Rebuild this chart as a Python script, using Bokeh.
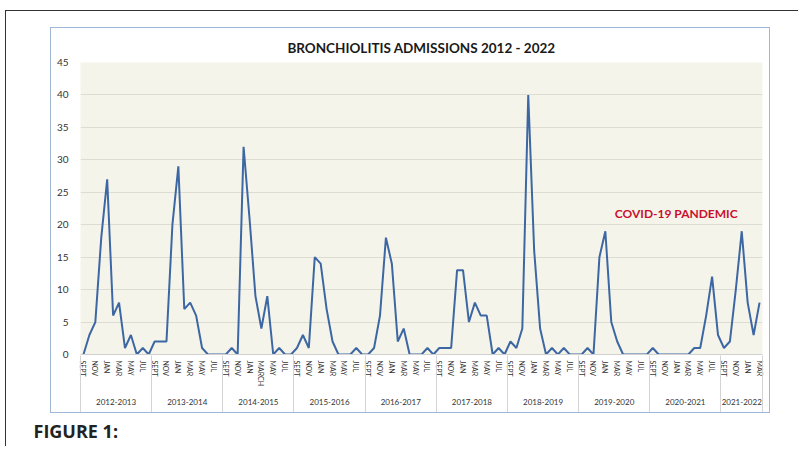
import numpy as np
from bokeh.plotting import figure
from bokeh.models import (Range1d, FixedTicker, LinearAxis, Label, Title, ColumnDataSource,
                          InlineStyleSheet)
from bokeh.embed import file_html
from bokeh.resources import INLINE

title_text = "BRONCHIOLITIS ADMISSIONS 2012 - 2022"
annotation_text = "COVID-19 PANDEMIC"
figure_caption = "FIGURE 1:"

seasons = ["2012-2013", "2013-2014", "2014-2015", "2015-2016", "2016-2017",
           "2017-2018", "2018-2019", "2019-2020", "2020-2021", "2021-2022"]
months = ["SEPT", "OCT", "NOV", "DEC", "JAN", "FEB", "MAR", "APR", "MAY", "JUN", "JUL", "AUG"]

adm_2012_2013 = [0, 3, 5, 18, 27, 6, 8, 1, 3, 0, 1, 0]
adm_2013_2014 = [2, 2, 2, 20, 29, 7, 8, 6, 1, 0, 0, 0]
adm_2014_2015 = [0, 1, 0, 32, 21, 9, 4, 9, 0, 1, 0, 0]
adm_2015_2016 = [1, 3, 1, 15, 14, 7, 2, 0, 0, 0, 1, 0]
adm_2016_2017 = [0, 1, 6, 18, 14, 2, 4, 0, 0, 0, 1, 0]
adm_2017_2018 = [1, 1, 1, 13, 13, 5, 8, 6, 6, 0, 1, 0]
adm_2018_2019 = [2, 1, 4, 40, 16, 4, 0, 1, 0, 1, 0, 0]
adm_2019_2020 = [0, 1, 0, 15, 19, 5, 2, 0, 0, 0, 0, 0]
adm_2020_2021 = [1, 0, 0, 0, 0, 0, 0, 1, 1, 6, 12, 3]
adm_2021_2022 = [1, 2, 10, 19, 8, 3, 8]

# month tick labels shown (every other month), per season
tick_labels_std = ["SEPT", "NOV", "JAN", "MAR", "MAY", "JUL"]
tick_labels_2014_2015 = ["SEPT", "NOV", "JAN", "MARCH", "MAY", "JUL"]
tick_labels_2021_2022 = ["SEPT", "NOV", "JAN", "MAR"]

y_ticks = [0, 5, 10, 15, 20, 25, 30, 35, 40, 45]

# position of the annotation (data units: month index, admissions)
annotation_x = 89.6
annotation_y = 21.7

season_values = [adm_2012_2013, adm_2013_2014, adm_2014_2015, adm_2015_2016, adm_2016_2017,
                 adm_2017_2018, adm_2018_2019, adm_2019_2020, adm_2020_2021, adm_2021_2022]
season_ticks = [tick_labels_std, tick_labels_std, tick_labels_2014_2015, tick_labels_std,
                tick_labels_std, tick_labels_std, tick_labels_std, tick_labels_std,
                tick_labels_std, tick_labels_2021_2022]

values, month_names = [], []
for vals in season_values:
    values += vals
    month_names += months[:len(vals)]
x = list(range(len(values)))

tick_pos, tick_over = [], {}
dividers = [-0.5]
centers, center_over = [], {}
start = 0
for season, vals, labs in zip(seasons, season_values, season_ticks):
    for k, lab in enumerate(labs):
        t = start + 2 * k
        tick_pos.append(t)
        tick_over[t] = lab
    c = start + (len(vals) - 1) / 2
    centers.append(c)
    center_over[c] = season
    start += len(vals)
    dividers.append(start - 0.5)

src = ColumnDataSource(dict(x=x, y=values, month=month_names))

FONT = "Lato"
W, H = 798, 442
FL, FT, FW, FH = 80, 62, 682, 292
p = figure(frame_width=FW, frame_height=FH,
           x_range=Range1d(-0.5, len(values) - 0.5), y_range=Range1d(0, 45),
           output_backend="svg", toolbar_location=None,
           min_border_left=FL, min_border_right=W - FL - FW,
           min_border_top=FT, min_border_bottom=H - FT - FH)

p.background_fill_color = "#f5f4ea"
p.border_fill_color = "white"
p.outline_line_color = None

p.title.text = title_text
p.title.align = "center"
p.title.offset = -11
p.title.text_font = FONT
p.title.text_font_style = "bold"
p.title.text_font_size = "13.5px"
p.title.text_color = "#1a1a1a"
p.title.standoff = 14

p.line("x", "y", source=src, line_color="#3d67a3", line_width=2)

p.xgrid.grid_line_color = None
p.ygrid.grid_line_color = "#dcdcd2"
p.ygrid.ticker = FixedTicker(ticks=y_ticks)

ya = p.yaxis[0]
ya.ticker = FixedTicker(ticks=y_ticks)
ya.axis_line_color = None
ya.major_tick_line_color = None
ya.minor_tick_line_color = None
ya.major_tick_out = 0
ya.major_tick_in = 0
ya.major_label_text_font = FONT
ya.major_label_text_font_size = "10px"
ya.major_label_text_color = "#333333"
ya.major_label_standoff = 12

xa = p.xaxis[0]
xa.ticker = FixedTicker(ticks=tick_pos)
xa.major_label_overrides = tick_over
xa.major_label_orientation = "vertical"
xa.major_label_text_font = FONT
xa.major_label_text_font_size = "7px"
xa.major_label_text_color = "#333333"
xa.major_label_standoff = 6
xa.axis_line_color = "#d0d0d0"
xa.major_tick_line_color = None
xa.minor_tick_line_color = None
xa.major_tick_out = 0
xa.major_tick_in = 0

year_axis = LinearAxis(ticker=FixedTicker(ticks=centers), major_label_overrides=center_over)
year_axis.axis_line_color = None
year_axis.major_tick_line_color = None
year_axis.minor_tick_line_color = None
year_axis.major_tick_out = 0
year_axis.major_tick_in = 0
year_axis.major_label_text_font = FONT
year_axis.major_label_text_font_size = "8px"
year_axis.major_label_text_color = "#333333"
year_axis.major_label_standoff = 9
p.add_layout(year_axis, "below")

div_axis = LinearAxis(ticker=FixedTicker(ticks=dividers),
                      major_label_overrides={d: "" for d in dividers})
div_axis.axis_line_color = None
div_axis.minor_tick_line_color = None
div_axis.major_tick_line_color = "#d4d4d4"
div_axis.major_tick_in = 52
div_axis.major_tick_out = 5
div_axis.major_label_text_font_size = "1px"
div_axis.major_label_standoff = 0
p.add_layout(div_axis, "below")

p.add_layout(Label(x=annotation_x, y=annotation_y, text=annotation_text, text_color="#c8102e",
                   text_font=FONT, text_font_style="bold", text_font_size="12px",
                   text_baseline="middle"))

caption = Title(text=figure_caption, align="left", offset=33 - FL, standoff=8,
                text_font="Open Sans", text_font_style="bold", text_font_size="18px",
                text_color="#222222")
p.add_layout(caption, "below")

# chart-box border (light blue) and outer page frame (dark), as CSS overlays
p.stylesheets = [InlineStyleSheet(css="""
:host { position: relative; }
:host::before { content: ''; position: absolute; left: 50px; top: 27px; width: 720px; height: 386px;
  box-sizing: border-box; border: 1.5px solid #9fb6d5; pointer-events: none; z-index: 20; }
:host::after { content: ''; position: absolute; left: 5px; top: 10px; right: 0px; bottom: 0px;
  border-top: 1.5px solid #333333; border-left: 1.5px solid #333333; pointer-events: none; z-index: 20; }
""")]

open("out.html", "w").write(file_html(p, INLINE))
